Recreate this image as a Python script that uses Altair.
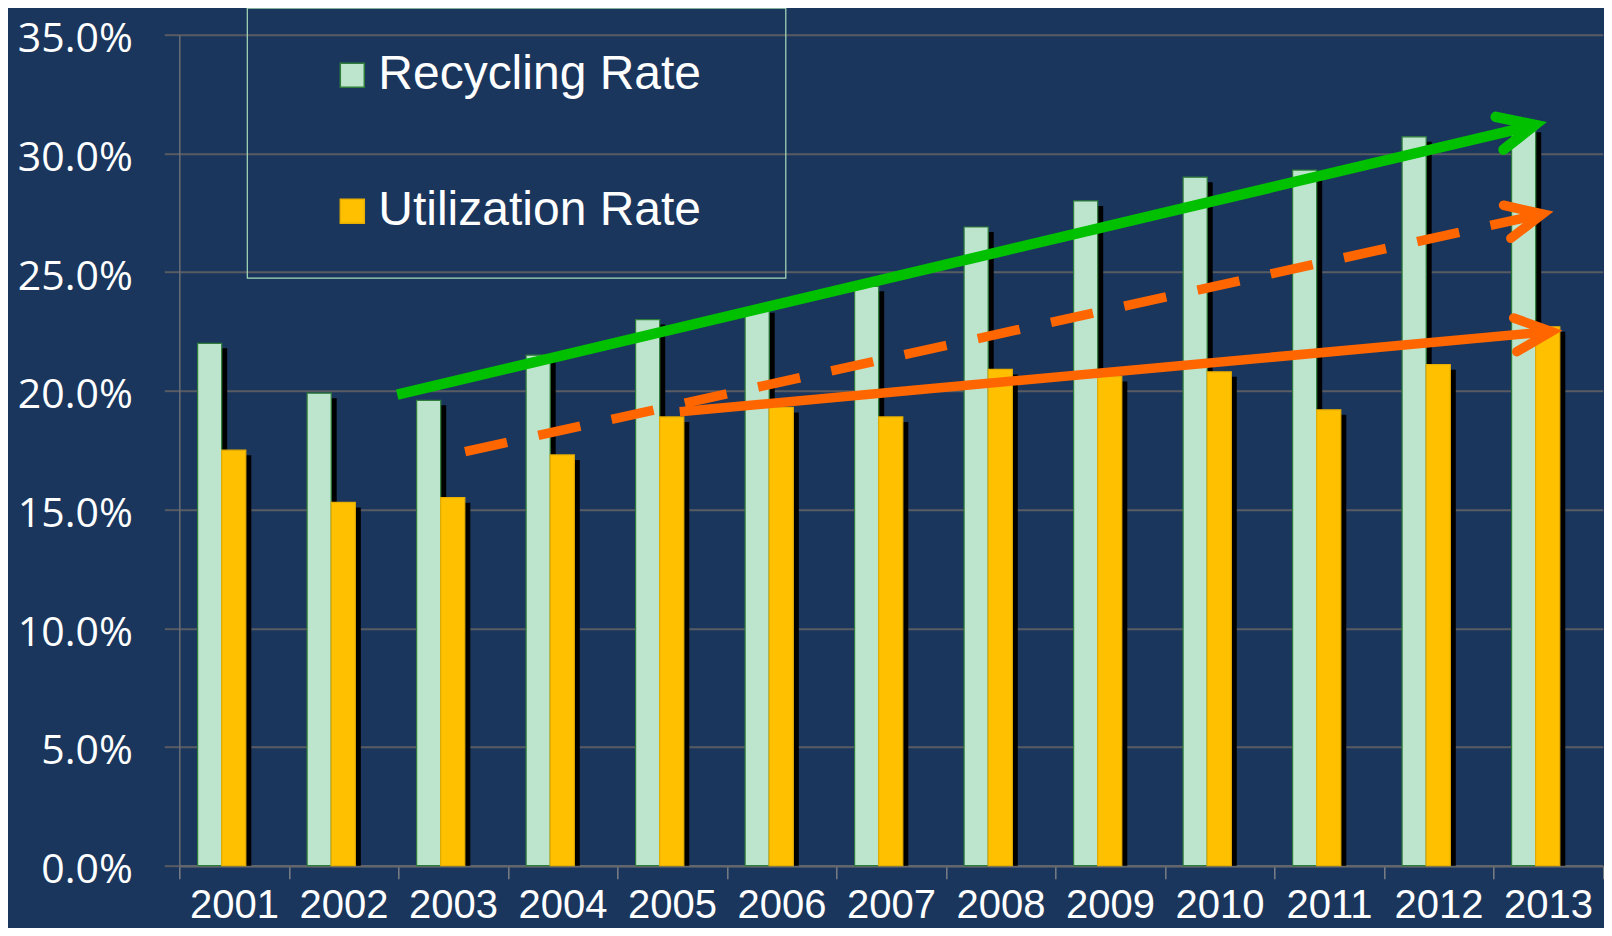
import math
import altair as alt
import pandas as pd

# ---------------- data ----------------
years = ["2001", "2002", "2003", "2004", "2005", "2006", "2007",
         "2008", "2009", "2010", "2011", "2012", "2013"]
recycling_rate = [22.0, 19.9, 19.6, 21.5, 23.0, 23.5, 24.4, 26.9, 28.0, 29.0, 29.3, 30.7, 31.1]
utilization_rate = [17.5, 15.3, 15.5, 17.3, 18.9, 19.3, 18.9, 20.9, 20.6, 20.8, 19.2, 21.1, 22.7]
series_names = ["Recycling Rate", "Utilization Rate"]
y_ticks = [0, 5, 10, 15, 20, 25, 30, 35]

# trend arrows (x in category units: 0 = left edge of 2001, 13 = right edge of 2013; y in %)
trend_x_start = [1.99, 2.61, 4.57]
trend_y_start = [19.84, 17.44, 19.12]
trend_x_end = [12.38, 12.45, 12.53]
trend_y_end = [31.20, 27.45, 22.50]

# ---------------- layout / style ----------------
BAND = 109.5
PLOT_W = BAND * len(years)
PLOT_H = 831
Y_MAX = 35
BG = "#1a365d"
GRID = "#585c62"
WHITE = "#ffffff"
GREEN_FILL = "#bde4cd"
YELLOW_FILL = "#ffc000"
ARROW_GREEN = "#00c000"
ARROW_ORANGE = "#ff6600"
LEGEND_FRAME = "#a8dcb8"
CHEVRON = "M-1,-0.4663L0,0L-1,0.4663"
HEAD_SIZE = 5256

rows = []
for i, y in enumerate(years):
    rows.append({"year": y, "series": series_names[0], "value": recycling_rate[i]})
    rows.append({"year": y, "series": series_names[1], "value": utilization_rate[i]})
df = pd.DataFrame(rows)

x_band = alt.Scale(domain=years, paddingInner=0, paddingOuter=0)
y_scale = alt.Scale(domain=[0, Y_MAX], nice=False, zero=True)

y_axis = alt.Axis(
    values=y_ticks, title=None,
    labelExpr="format(datum.value, '.1f') + '%'",
    labelFont="Open Sans", labelFontSize=41, labelColor=WHITE, labelPadding=32, labelOffset=5,
    tickSize=15, tickColor=GRID, tickWidth=2,
    domainColor="#6a6e74", domainWidth=1.5,
    grid=True, gridColor=GRID, gridWidth=2,
)
x_axis = alt.Axis(
    title=None, labelAngle=0,
    labelFont="Liberation Sans", labelFontSize=40, labelColor=WHITE, labelPadding=7,
    tickBand="extent", tickSize=13, tickColor="#7a7e84", tickWidth=1.5,
    domainColor="#62666c", domainWidth=2.5, grid=False,
)

legend = alt.Legend(
    orient="none", legendX=68, legendY=-26.5, title=None,
    labelFont="Liberation Sans", labelFontSize=48, labelColor=WHITE, labelLimit=0,
    symbolType="square", symbolSize=576, symbolStrokeWidth=1.5,
    symbolOffset=38, labelOffset=2, rowPadding=88, padding=43,
)

shadow = alt.Chart(df).mark_bar(color="#000000", yOffset=5).encode(
    x=alt.X("year:N", scale=x_band, axis=x_axis),
    xOffset=alt.XOffset("series:N", scale=alt.Scale(domain=series_names, range=[23.8, 72.0],
                                                      paddingInner=0, paddingOuter=0)),
    y=alt.Y("value:Q", scale=y_scale, stack=None, axis=y_axis),
)

bars = alt.Chart(df).mark_bar(strokeWidth=1.2).encode(
    x=alt.X("year:N", scale=x_band, axis=x_axis),
    xOffset=alt.XOffset("series:N", scale=alt.Scale(domain=series_names, range=[18.3, 66.5],
                                                      paddingInner=0, paddingOuter=0)),
    y=alt.Y("value:Q", scale=y_scale, stack=None, axis=y_axis),
    color=alt.Color("series:N", scale=alt.Scale(domain=series_names, range=[GREEN_FILL, YELLOW_FILL]),
                    legend=legend),
    stroke=alt.Stroke("series:N", scale=alt.Scale(domain=series_names, range=["#2e7d3a", "#e8ae00"]),
                      legend=legend),
)

bar_group = alt.layer(shadow, bars).resolve_scale(xOffset="independent")

x_q = alt.Scale(domain=[0, len(years)], nice=False, zero=False)


def arrow(i, color, width, dash=None):
    line_df = pd.DataFrame({"x": [trend_x_start[i], trend_x_end[i]],
                            "y": [trend_y_start[i], trend_y_end[i]],
                            "o": [0, 1]})
    kw = dict(color=color, strokeWidth=width, strokeCap="butt")
    if dash:
        kw["strokeDash"] = dash
    line = alt.Chart(line_df).mark_line(**kw).encode(
        x=alt.X("x:Q", scale=x_q, axis=None),
        y=alt.Y("y:Q", scale=y_scale, axis=y_axis),
        order="o:Q",
    )
    dx = (trend_x_end[i] - trend_x_start[i]) * BAND
    dy = (trend_y_end[i] - trend_y_start[i]) * PLOT_H / Y_MAX
    ang = (360 - math.degrees(math.atan2(dy, dx))) % 360
    head_df = pd.DataFrame({"x": [trend_x_end[i]], "y": [trend_y_end[i]], "angle": [ang]})
    head = alt.Chart(head_df).mark_point(
        shape=CHEVRON, size=HEAD_SIZE, filled=False, color=color, strokeWidth=width,
        strokeCap="round", strokeJoin="miter", opacity=1,
    ).encode(
        x=alt.X("x:Q", scale=x_q, axis=None),
        y=alt.Y("y:Q", scale=y_scale, axis=y_axis),
        angle=alt.Angle("angle:Q", scale=None),
    )
    return [line, head]


# frame drawn around the legend (pixel box of the legend panel)
legend_frame = alt.Chart(pd.DataFrame({"k": [0]})).mark_rect(
    filled=False, stroke=LEGEND_FRAME, strokeWidth=1.2,
).encode(
    x=alt.value(68), x2=alt.value(606.5),
    y=alt.value(-26.5), y2=alt.value(243.5),
)

arrow_group = alt.layer(
    *arrow(0, ARROW_GREEN, 10.5),
    *arrow(1, ARROW_ORANGE, 9.5, [43, 32]),
    *arrow(2, ARROW_ORANGE, 9.5),
    legend_frame,
)

chart = alt.layer(bar_group, arrow_group).resolve_scale(x="independent").properties(
    width=PLOT_W,
    height=PLOT_H,
    background=BG,
    padding={"left": 171.3, "top": 26.7, "right": 1, "bottom": 62},
    autosize=alt.AutoSizeParams(type="none"),
).configure_view(stroke=None)

chart.save("out.html", embed_options={"renderer": "svg", "actions": False})
